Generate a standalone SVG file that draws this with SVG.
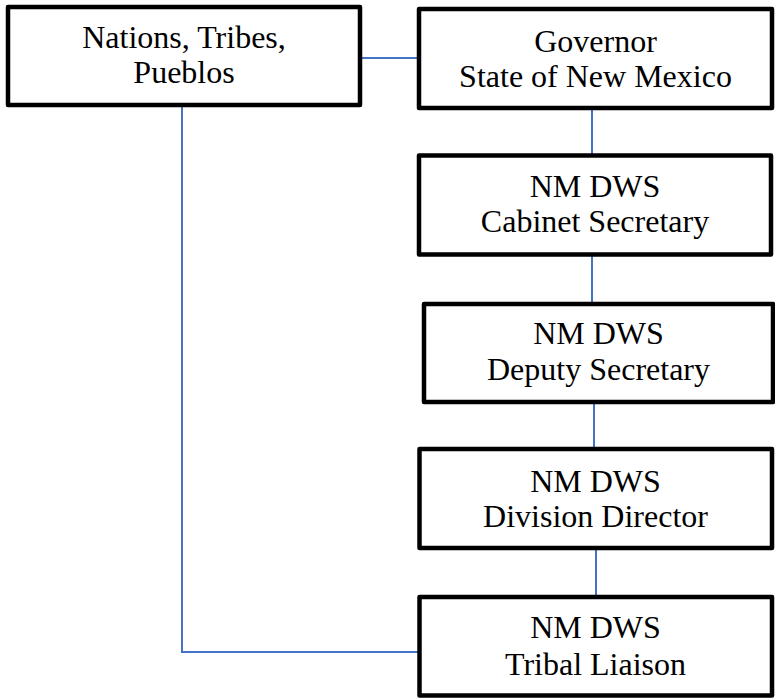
<svg xmlns="http://www.w3.org/2000/svg" width="775" height="698" viewBox="0 0 775 698">
<style>
.box{fill:#fff;stroke:#000;stroke-width:4.5;stroke-linejoin:round}
.t{font-family:"Liberation Serif","Times New Roman",serif;font-size:32px;fill:#000;text-anchor:middle}
.c{fill:none;stroke:#4472C4;stroke-width:2}
</style>
<rect width="775" height="698" fill="#fff"/>
<g id="connectors">
<line class="c" x1="362" y1="58" x2="418" y2="58"/>
<line class="c" x1="592" y1="110" x2="592" y2="154"/>
<line class="c" x1="592" y1="256" x2="592" y2="302"/>
<line class="c" x1="594" y1="404" x2="594" y2="447"/>
<line class="c" x1="596" y1="550" x2="596" y2="595"/>
<polyline class="c" points="182,107 182,652 418,652"/>
</g>
<g id="nations">
<rect class="box" x="8" y="7" width="352" height="98"/>
<text class="t" x="184" y="48">Nations, Tribes,</text>
<text class="t" x="184" y="83">Pueblos</text>
</g>
<g id="governor">
<rect class="box" x="419" y="9" width="353" height="99"/>
<text class="t" x="595.5" y="52">Governor</text>
<text class="t" x="595.5" y="87">State of New Mexico</text>
</g>
<g id="cabinet">
<rect class="box" x="419" y="155.5" width="352" height="99"/>
<text class="t" x="595" y="197">NM DWS</text>
<text class="t" x="595" y="232">Cabinet Secretary</text>
</g>
<g id="deputy">
<rect class="box" x="424" y="304" width="349" height="98"/>
<text class="t" x="598.5" y="344">NM DWS</text>
<text class="t" x="598.5" y="380">Deputy Secretary</text>
</g>
<g id="division">
<rect class="box" x="419.5" y="449" width="352.5" height="99"/>
<text class="t" x="595.5" y="492">NM DWS</text>
<text class="t" x="595.5" y="527">Division Director</text>
</g>
<g id="liaison">
<rect class="box" x="419.5" y="597" width="352.5" height="98.5"/>
<text class="t" x="595.5" y="638">NM DWS</text>
<text class="t" x="595.5" y="675">Tribal Liaison</text>
</g>
</svg>
